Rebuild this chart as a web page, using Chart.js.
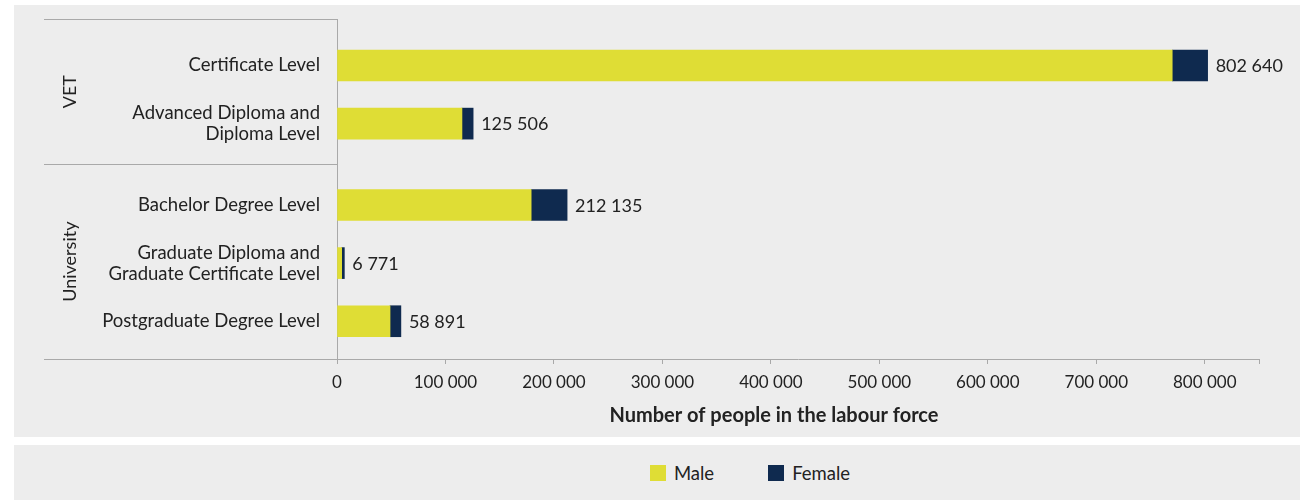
<!DOCTYPE html>
<html>
<head>
<meta charset="utf-8">
<script src="https://cdn.jsdelivr.net/npm/chart.js@4/dist/chart.umd.min.js"></script>
<style>
  body { margin: 0; background: #fff; font-family: Lato, sans-serif; }
  #panel { position: absolute; left: 14px; top: 5px; width: 1286px; height: 432px; background: #ededed; }
  #legend { position: absolute; left: 14px; top: 445px; width: 1286px; height: 55px; background: #ededed;
            display: flex; align-items: center; justify-content: center; box-sizing: border-box; padding-left: 186px; }
  .item { display: flex; align-items: center; margin: 0 27px; font-size: 18.5px; color: #222; }
  .box { width: 16px; height: 16px; margin-right: 8px; }
</style>
</head>
<body>
<div id="panel"><canvas id="chart" width="1286" height="432"></canvas></div>
<div id="legend"></div>
<script>
// qualification levels, grouped VET / University
const categories = [
  'Certificate Level',
  ['Advanced Diploma and', 'Diploma Level'],
  'Bachelor Degree Level',
  ['Graduate Diploma and', 'Graduate Certificate Level'],
  'Postgraduate Degree Level'
];
const groupOf = [0, 0, 1, 1, 1];
const groups = ['VET', 'University'];

const male   = [770000, 115200, 179000, 4300, 48900];
const female = [32640, 10306, 33135, 2471, 9991];

// x axis tick values; the last one only closes the axis
const xTicks = [0, 100000, 200000, 300000, 400000, 500000, 600000, 700000, 800000, 850000];

const colors = { male: '#dfdd35', female: '#0f2a4f' };

// row position on the y scale: one unit per row plus a gap between groups
const rowPos = categories.map((c, i) => i + 0.8 + 0.4 * groupOf[i]);
const yMax = 5.85;
const groupSplit = (rowPos[1] + rowPos[2]) / 2;

const fmt = n => String(n).replace(/\B(?=(\d{3})+(?!\d))/g, ' ');

const lineColor = '#a9a9a9';
const textColor = '#222';

// group brackets on the left + rotated group names
const groupPlugin = {
  id: 'groupPlugin',
  afterDraw(chart) {
    const ctx = chart.ctx;
    const y = chart.scales.y;
    const left = 30, right = chart.chartArea.left;
    const bounds = [y.top, y.getPixelForValue(groupSplit), y.bottom];
    ctx.save();
    ctx.strokeStyle = lineColor;
    ctx.lineWidth = 1;
    bounds.forEach(b => {
      const yy = Math.round(b) + 0.5;
      ctx.beginPath();
      ctx.moveTo(left, yy);
      ctx.lineTo(right, yy);
      ctx.stroke();
    });
    ctx.fillStyle = textColor;
    ctx.font = '18px Lato';
    ctx.textAlign = 'center';
    ctx.textBaseline = 'middle';
    groups.forEach((g, i) => {
      const mid = (bounds[i] + bounds[i + 1]) / 2;
      ctx.save();
      ctx.translate(56, mid);
      ctx.rotate(-Math.PI / 2);
      ctx.fillText(g, 0, 0);
      ctx.restore();
    });
    // x axis title
    ctx.font = 'bold 20px Lato';
    ctx.fillText('Number of people in the labour force', 760, 411);
    ctx.restore();
  }
};

// totals at the end of each stacked bar
const totalsPlugin = {
  id: 'totalsPlugin',
  afterDatasetsDraw(chart) {
    const ctx = chart.ctx;
    const meta = chart.getDatasetMeta(1);
    ctx.save();
    ctx.fillStyle = textColor;
    ctx.font = '18px Lato';
    ctx.textAlign = 'left';
    ctx.textBaseline = 'middle';
    meta.data.forEach((bar, i) => {
      ctx.fillText(fmt(male[i] + female[i]), bar.x + 8, bar.y + 1);
    });
    ctx.restore();
  }
};

const chart = new Chart(document.getElementById('chart'), {
  type: 'bar',
  data: {
    datasets: [
      { label: 'Male', data: male.map((v, i) => ({ x: v, y: rowPos[i] })), backgroundColor: colors.male, barThickness: 31 },
      { label: 'Female', data: female.map((v, i) => ({ x: v, y: rowPos[i] })), backgroundColor: colors.female, barThickness: 31 }
    ]
  },
  options: {
    indexAxis: 'y',
    responsive: false,
    animation: false,
    events: [],
    layout: { padding: { top: 14, right: 41, left: 0, bottom: 0 } },
    plugins: { legend: { display: false }, tooltip: { enabled: false } },
    scales: {
      x: {
        type: 'linear',
        stacked: true,
        min: 0,
        max: xTicks[xTicks.length - 1],
        border: { color: lineColor },
        grid: { drawOnChartArea: false, drawTicks: true, tickLength: 5, color: lineColor },
        afterBuildTicks: s => { s.ticks = xTicks.map(v => ({ value: v })); },
        ticks: {
          autoSkip: false,
          maxRotation: 0,
          padding: 8,
          color: textColor,
          font: { family: 'Lato', size: 17 },
          callback: (v, i) => (i === xTicks.length - 1 ? '' : fmt(v))
        },
        afterFit: s => { s.height = 78; s.paddingLeft = 0; s.paddingRight = 0; }
      },
      y: {
        type: 'linear',
        stacked: true,
        reverse: true,
        offset: false,
        min: 0,
        max: yMax,
        border: { color: lineColor },
        grid: { display: false, drawTicks: false, offset: false },
        afterBuildTicks: s => { s.ticks = rowPos.map(v => ({ value: v })); },
        ticks: {
          padding: 17,
          color: textColor,
          font: { family: 'Lato', size: 18.5, lineHeight: 1.14 },
          callback: (v, i) => categories[i]
        },
        afterFit: s => { s.width = 323; s.paddingTop = 0; s.paddingBottom = 0; }
      }
    }
  },
  plugins: [groupPlugin, totalsPlugin]
});

// legend built from the datasets
const legend = document.getElementById('legend');
chart.data.datasets.forEach(ds => {
  const item = document.createElement('div');
  item.className = 'item';
  const box = document.createElement('span');
  box.className = 'box';
  box.style.background = ds.backgroundColor;
  const label = document.createElement('span');
  label.textContent = ds.label;
  item.appendChild(box);
  item.appendChild(label);
  legend.appendChild(item);
});
</script>
</body>
</html>
